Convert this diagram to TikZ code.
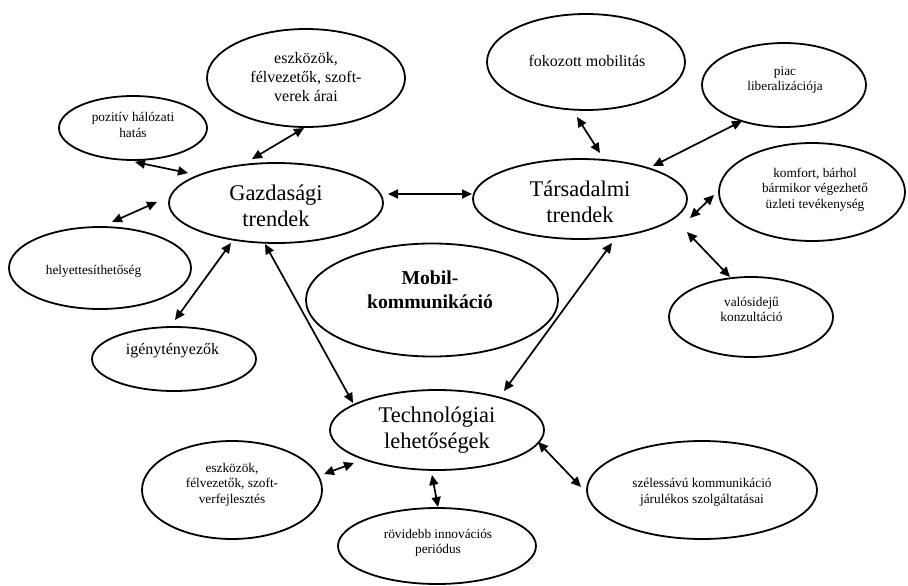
\documentclass[tikz,border=0pt]{standalone}
\usepackage{fontspec}
\setmainfont{Liberation Serif}
\usetikzlibrary{shapes.geometric,arrows.meta}
\begin{document}
\begin{tikzpicture}[x=1pt,y=-1pt,
  bubble/.style={draw, ellipse, line width=1.8pt, inner sep=0pt},
  big/.style={font=\fontsize{22.4}{26}\selectfont, align=center, inner sep=0pt},
  mid/.style={font=\fontsize{16}{19}\selectfont, align=center, inner sep=0pt},
  small/.style={font=\fontsize{13.3}{15.5}\selectfont, align=center, inner sep=0pt},
  core/.style={font=\fontsize{19.7}{24}\selectfont\bfseries, align=center, inner sep=0pt},
  link/.style={arrows={Triangle[length=10pt,width=9pt]-Triangle[length=10pt,width=9pt]}, line width=1.7pt},
]
\fill[white] (0,0) rectangle (908,586);
\useasboundingbox (0,0) rectangle (908,586);

% main trends
\node[bubble, minimum width=214pt, minimum height=80pt] (gaz) at (276,203) {};
\node[bubble, minimum width=214pt, minimum height=80pt] (tars) at (580,199) {};
\node[bubble, minimum width=214pt, minimum height=80pt] (techn) at (437,430) {};
\node[bubble, minimum width=252pt, minimum height=113pt] (mobil) at (432,300) {};

% economic factors
\node[bubble, minimum width=198pt, minimum height=98pt] (arak) at (306,78) {};
\node[bubble, minimum width=148pt, minimum height=64pt] (poz) at (133,128) {};
\node[bubble, minimum width=182pt, minimum height=82pt] (helyett) at (100,268) {};
\node[bubble, minimum width=164pt, minimum height=64pt] (igeny) at (174,359) {};

% social factors
\node[bubble, minimum width=198pt, minimum height=96pt] (fokoz) at (586,62) {};
\node[bubble, minimum width=164pt, minimum height=84pt] (piac) at (784,85) {};
\node[bubble, minimum width=186pt, minimum height=98pt] (komfort) at (812,192) {};
\node[bubble, minimum width=164pt, minimum height=80pt] (valos) at (751,317) {};

% technological factors
\node[bubble, minimum width=180pt, minimum height=98pt] (fejl) at (232,490) {};
\node[bubble, minimum width=198pt, minimum height=76pt] (rovid) at (437,546) {};
\node[bubble, minimum width=230pt, minimum height=98pt] (szeles) at (702,490) {};

% labels
\node[big] (gaz-t) at ([shift={(0,3)}]gaz.center) {Gazdasági\\trendek};
\node[big] (tars-t) at ([shift={(0,2.5)}]tars.center) {Társadalmi\\trendek};
\node[big] (techn-t) at ([shift={(0,0)}]techn.center) {Technológiai\\lehetőségek};
\node[core] (mobil-t) at ([shift={(-2,-10.5)}]mobil.center) {Mobil-\\kommunikáció};
\node[mid] (arak-t) at ([shift={(0,-1)}]arak.center) {eszközök,\\félvezetők, szoft-\\verek árai};
\node[small] (poz-t) at ([shift={(0,-3)}]poz.center) {pozitív hálózati\\hatás};
\node[small] (helyett-t) at ([shift={(-6.5,3.5)}]helyett.center) {helyettesíthetőség};
\node[mid] (igeny-t) at ([shift={(-1.5,-8)}]igeny.center) {igénytényezők};
\node[mid] (fokoz-t) at ([shift={(1,-1)}]fokoz.center) {fokozott mobilitás};
\node[small] (piac-t) at ([shift={(1,-5)}]piac.center) {piac\\liberalizációja};
\node[small] (komfort-t) at ([shift={(3,-2.5)}]komfort.center) {komfort, bárhol\\bármikor végezhető\\üzleti tevékenység};
\node[small] (valos-t) at ([shift={(0.5,-7.5)}]valos.center) {valósidejű\\konzultáció};
\node[small] (fejl-t) at ([shift={(0,-5.5)}]fejl.center) {eszközök,\\félvezetők, szoft-\\verfejlesztés};
\node[small] (rovid-t) at ([shift={(1,-3)}]rovid.center) {rövidebb innovációs\\periódus};
\node[small] (szeles-t) at ([shift={(0,2.5)}]szeles.center) {szélessávú kommunikáció\\járulékos szolgáltatásai};

% connectors
\draw[link] ([shift={(2,34)}]poz.center) -- ([shift={(-88,-30)}]gaz.center);
\draw[link] ([shift={(-2,50)}]arak.center) -- ([shift={(-24,-44)}]gaz.center);
\draw[link] ([shift={(12,-46)}]helyett.center) -- ([shift={(-119,-1)}]gaz.center);
\draw[link] ([shift={(112,-9)}]gaz.center) -- ([shift={(-108,-5)}]tars.center);
\draw[link] ([shift={(-45,40)}]gaz.center) -- ([shift={(1,-39)}]igeny.center);
\draw[link] ([shift={(-11,41)}]gaz.center) -- ([shift={(-84,-27)}]techn.center);
\draw[link] ([shift={(32,44)}]tars.center) -- ([shift={(67,-39)}]techn.center);
\draw[link] ([shift={(-9,55)}]fokoz.center) -- ([shift={(20,-46)}]tars.center);
\draw[link] ([shift={(-42,36)}]piac.center) -- ([shift={(73,-33)}]tars.center);
\draw[link] ([shift={(-98,3)}]komfort.center) -- ([shift={(110,19)}]tars.center);
\draw[link] ([shift={(107,33)}]tars.center) -- ([shift={(-21,-40)}]valos.center);
\draw[link] ([shift={(-83,33)}]techn.center) -- ([shift={(92,-16)}]fejl.center);
\draw[link] ([shift={(-5,45)}]techn.center) -- ([shift={(1,-39)}]rovid.center);
\draw[link] ([shift={(101,12)}]techn.center) -- ([shift={(-121,-3)}]szeles.center);
\end{tikzpicture}
\end{document}
